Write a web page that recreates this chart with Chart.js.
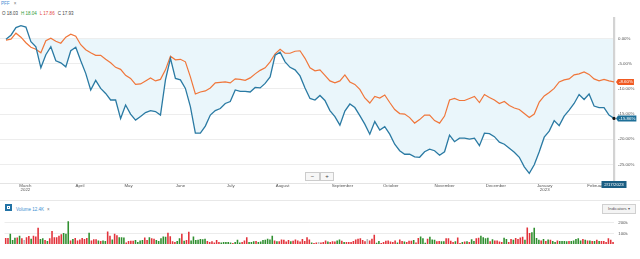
<!DOCTYPE html>
<html>
  <head>
    <title>PFF one year</title>
    <script src="https://cdn.jsdelivr.net/npm/chart.js@4.4.0/dist/chart.umd.min.js"></script>
    <style>
      body {
        margin: 0;
        width: 640px;
        height: 259px;
        overflow: hidden;
        background: #fff;
        position: relative;
        font-family: "Liberation Sans", Arial, sans-serif;
      }
      .abs { position: absolute; white-space: nowrap; }
      #title { left: 1px; top: 1px; font-size: 4.6px; color: #4a8fd4; }
      #title span { color: #777; margin-left: 4px; }
      #ohlc { left: 2px; top: 11px; font-size: 4.5px; color: #444; }
      #ohlc b { font-weight: normal; margin-right: 3px; }
      #priceBox { left: 0; top: 0; width: 640px; height: 196px; }
      #volBox { left: 0; top: 205px; width: 640px; height: 45px; }
      .zbtn {
        top: 172px; height: 7px; border: 1px solid #ccc; background: #f7f7f7;
        font-size: 6px; line-height: 7px; text-align: center; color: #444;
      }
      #sep { left: 0; top: 200px; width: 640px; height: 1px; background: #e8e8e8; }
      #volIcon { left: 5px; top: 204px; width: 7px; height: 7px; background: #2273a6; }
      #volIcon i { position: absolute; left: 2px; top: 2px; width: 3px; height: 3px; border: 0.6px solid #fff; box-sizing: border-box; }
      #volHead { left: 16px; top: 207px; font-size: 4.5px; color: #3d8fd1; }
      #volHead span { color: #777; margin-left: 3px; }
      #ind {
        left: 602px; top: 204px; width: 32px; height: 8px; border: 1px solid #d0d0d0;
        background: #f4f4f4; font-size: 4.3px; line-height: 8px; color: #555; text-align: center;
      }
    </style>
  </head>
  <body>
    <div class="abs" id="title">PFF<span>×</span></div>
    <div class="abs" id="ohlc">
      <b>O 18.03</b><b style="color: #2f9a3a">H 18.04</b><b style="color: #e2453c">L 17.86</b><b>C 17.93</b>
    </div>
    <div class="abs" id="priceBox"><canvas id="priceChart"></canvas></div>
    <div class="abs zbtn" style="left: 305px; width: 13px">−</div>
    <div class="abs zbtn" style="left: 320px; width: 12px">+</div>
    <div class="abs" id="sep"></div>
    <div class="abs" id="volIcon"><i></i></div>
    <div class="abs" id="volHead">Volume 12.4K<span>×</span></div>
    <div class="abs" id="ind">Indicators ▾</div>
    <div class="abs" id="volBox"><canvas id="volChart"></canvas></div>

    <script>
      // % change since 2/17/2022, sampled about every 2 trading days
      const pffPct = [
        -0.1, 0.7, 2.2, 2.6, 2.3, -0.6, -1.6, -5.8, -3.2, -1.6,
        -4.4, -4.8, -5.6, -2.4, -1.7, -4.4, -6.9, -10.2, -8.3, -9.9,
        -10.9, -12.2, -12.2, -15.9, -13.2, -15.0, -16.2, -15.5, -14.7, -14.3,
        -14.5, -15.2, -8.2, -3.9, -7.9, -8.2, -9.9, -13.5, -18.8, -18.8,
        -17.4, -15.2, -14.3, -13.9, -12.9, -12.5, -10.2, -10.5, -10.5, -10.6,
        -9.7, -9.8, -8.9, -7.6, -3.3, -2.7, -4.6, -5.7, -6.2, -7.4,
        -9.8, -11.9, -12.2,
        -11.3, -12.3, -14.3, -15.5, -17.2, -14.4, -13.0, -13.7, -15.3, -17.0,
        -19.0, -16.5, -18.2, -17.5, -19.0, -21.0, -22.3, -23.0, -23.0, -23.5,
        -23.6, -22.5, -22.0, -22.3, -23.2, -22.5, -19.2, -20.5, -19.8, -19.8,
        -20.0, -19.8, -21.3, -18.8, -18.9, -19.5, -20.6, -21.0, -21.8, -22.6,
        -23.6, -25.5, -26.8, -25.1, -22.5, -19.6, -18.4, -16.3, -17.3, -15.4,
        -14.2, -12.9, -11.1, -12.1, -11.0, -13.4, -13.7, -13.7, -15.2,
        -15.86,
      ];
      const benchPct = [
        -0.3, -0.1, 1.1, 0.3, -0.8, -1.7, -2.1, -2.8, -0.4, 0.1,
        -0.5, -0.9, 0.3, 0.9, 0.5, -1.2, -2.2, -2.8, -3.3, -3.3,
        -4.1, -4.8, -5.7, -6.1, -7.3, -7.9, -9.1, -9.0, -8.4, -7.8,
        -8.4, -8.1, -6.2, -3.5, -4.2, -4.1, -4.6, -7.6, -11.0, -10.6,
        -10.4, -9.8, -8.8, -8.7, -8.6, -8.8, -8.0, -8.1, -8.3, -7.8,
        -7.0, -6.3, -5.8, -4.6, -3.0, -2.1, -2.9, -2.9, -2.5, -2.4,
        -3.9, -5.8, -6.4,
        -6.2, -7.3, -8.4, -8.8, -8.4, -7.2, -8.6, -9.1, -10.1, -11.8,
        -12.8, -11.5, -11.8, -11.2, -12.7, -14.1, -14.9, -15.0, -15.7, -16.8,
        -16.1, -15.2, -15.2, -16.3, -16.8, -15.4, -12.2, -11.9, -12.3, -12.3,
        -11.9, -11.5, -12.7, -11.1, -11.7, -12.2, -12.9, -12.5, -13.3, -13.8,
        -14.1, -14.9, -15.7, -15.0, -12.6, -11.4, -10.7, -9.9, -8.6, -8.2,
        -8.0, -7.2, -7.0, -6.6, -7.1, -8.0, -8.4, -8.1, -8.4,
        -8.6,
      ];

      const monthNames = [
        ["March", "2022"], "April", "May", "June", "July", "August",
        "September", "October", "November", "December", ["January", "2023"], "February",
      ];
      // where each month label sits, in sample units
      const monthPos = [3.9, 14.85, 24.6, 35.0, 45.1, 55.5, 67.5, 77.2, 88.0, 98.3, 108.1, 118.4];
      const pctTicks = [0, -5, -10, -15, -20, -25];
      const lastDate = "2/17/2023";

      // daily volume in thousands, r = down day, g = up day, n = unchanged
      const volK = [
        56, 56, 97, 36, 58, 61, 78, 53, 36, 64, 75, 50, 78, 70, 153, 47, 53, 36, 28, 53,
        122, 64, 64, 78, 92, 103, 97, 214, 33, 47, 56, 33, 42, 56, 47, 56, 106, 33, 44, 44,
        33, 28, 33,
        28, 117, 78, 42, 97, 83, 64, 64, 61, 14, 28, 31, 31, 36, 19, 33, 36, 61, 36, 64,
        53, 50, 36, 28, 53, 70, 67, 106, 72, 25, 19, 28, 53, 97, 31, 36, 114, 33, 70, 36,
        39, 47, 44,
        50, 28, 19, 25, 14, 36, 19, 14, 19, 17, 17, 14, 8, 17, 39, 14, 19, 33, 64, 17,
        19, 25, 28, 17, 22, 36, 39, 50, 42, 78, 33, 25, 25, 42, 39, 22, 36, 25, 31, 42,
        33, 22, 47,
        28, 64, 42, 14, 8, 14, 19, 14, 19, 33, 22, 17, 25, 22, 33, 42, 31, 19, 19, 19,
        19, 28, 42, 50, 53, 36, 25, 47, 33, 50, 86, 11, 28, 8, 19, 31, 33, 22, 17, 33,
        14, 42, 28, 22, 19,
        31, 31, 36, 14, 56, 70, 53, 11, 50, 67, 42, 39, 25, 28, 25, 25, 53, 53, 31, 17,
        25, 61, 8, 17, 22, 25, 17, 44, 28, 53, 58, 78, 64, 53, 58, 25, 44, 33, 33, 22,
        17, 58, 47, 17,
        47, 39, 56, 47, 61, 67, 39, 156, 103, 111, 153, 56, 39, 33, 47, 28, 42, 39, 28, 19,
        33, 28, 28, 28, 25, 28, 28, 33, 47, 53, 33, 47, 39, 33, 33, 28, 28, 39, 28, 28,
        28, 17, 53, 39, 19,
      ];
      const volDir = (
        "rrgggrgrnr" + "rgrrrggrgr" + "rrrrrgggrg" + "rrrrrrgrrr" + "grg" +
        "grrgrrgggr" + "rrrggggrrg" + "rrgggggrrr" + "rggrgrrggg" + "ggg" +
        "grrrrrrggg" + "ggrgggrrrg" + "ggrggggggg" + "rgrrrrrgrr" + "rrr" +
        "rrrgrrnrrr" + "grrrggrgrr" + "rrrrrrrnrr" + "rggrrrrrrr" + "grrgr" +
        "rrgrrgggrg" + "ggrrggrrrr" + "grrgrgrggr" + "rggggrgrrr" + "rggr" +
        "rgrrrrgrrg" + "gggrgrgrgg" + "rggggrgggg" + "grgrgrgrgr" + "rrrrr"
      ).split("");
      const volTicks = [100, 200];

      const lastIdx = pffPct.length - 1;
      const idx = pffPct.map((v, i) => i);

      const endTags = {
        id: "endTags",
        beforeDatasetsDraw(chart) {
          const { ctx, chartArea } = chart;
          ctx.save();
          ctx.fillStyle = "#d3d3d3";
          ctx.fillRect(chartArea.right - 1, chartArea.top, 2.2, chartArea.bottom - chartArea.top + 5);
          ctx.restore();
        },
        afterDatasetsDraw(chart) {
          const { ctx, chartArea, scales } = chart;
          ctx.save();
          ctx.font = "4.4px 'Liberation Sans', Arial";
          ctx.textBaseline = "middle";
          chart.data.datasets.forEach((ds) => {
            const v = ds.data[ds.data.length - 1];
            const y = scales.y.getPixelForValue(v);
            const x = chartArea.right + 4;
            const txt = v.toFixed(2) + "%";
            const w = ctx.measureText(txt).width + 2;
            ctx.fillStyle = ds.tagColor;
            ctx.beginPath();
            ctx.moveTo(x - 2, y);
            ctx.lineTo(x, y - 3);
            ctx.lineTo(x + w, y - 3);
            ctx.lineTo(x + w, y + 3);
            ctx.lineTo(x, y + 3);
            ctx.closePath();
            ctx.fill();
            ctx.fillStyle = "#fff";
            ctx.fillText(txt, x + 1, y + 0.3);
          });
          // end dot on the main line
          const xe = scales.x.getPixelForValue(lastIdx);
          const ye = scales.y.getPixelForValue(pffPct[lastIdx]);
          ctx.fillStyle = "#111";
          ctx.beginPath();
          ctx.arc(xe, ye, 1.6, 0, Math.PI * 2);
          ctx.fill();
          // date tag under the last sample
          const tw = 25;
          ctx.fillStyle = "#1b5e83";
          ctx.fillRect(xe - tw / 2, chartArea.bottom - 2, tw, 7);
          ctx.fillStyle = "#fff";
          ctx.textAlign = "center";
          ctx.fillText(lastDate, xe, chartArea.bottom + 1.6);
          ctx.restore();
        },
      };

      const tickFont = { family: "'Liberation Sans', Arial", size: 4.4, lineHeight: 0.95 };

      new Chart(document.getElementById("priceChart"), {
        type: "line",
        data: {
          labels: idx,
          datasets: [
            {
              label: "PFF",
              data: pffPct,
              borderColor: "#2a7aa3",
              borderWidth: 1.3,
              pointRadius: 0,
              tension: 0,
              fill: { target: "origin", above: "rgba(0,0,0,0)", below: "#eaf6fb" },
              tagColor: "#1d6f98",
            },
            {
              label: "Benchmark",
              data: benchPct,
              borderColor: "#f0763a",
              borderWidth: 1.2,
              pointRadius: 0,
              tension: 0,
              fill: false,
              tagColor: "#f05a22",
            },
          ],
        },
        options: {
          responsive: true,
          maintainAspectRatio: false,
          animation: false,
          events: [],
          layout: { padding: { top: 17, left: 0, right: 0, bottom: 0 } },
          plugins: {
            legend: { display: false },
            tooltip: { enabled: false },
            filler: { drawTime: "beforeDatasetsDraw" },
          },
          scales: {
            x: {
              type: "linear",
              min: -1.2,
              max: lastIdx,
              afterBuildTicks: (axis) => {
                axis.ticks = monthPos.map((v) => ({ value: v }));
              },
              afterFit: (axis) => {
                axis.height = 13;
              },
              ticks: {
                autoSkip: false,
                maxRotation: 0,
                padding: 1,
                color: "#555",
                font: tickFont,
                callback: (v) => monthNames[monthPos.indexOf(v)],
              },
              grid: { display: false, drawTicks: false },
              border: { display: true, color: "#e4e4e4", width: 1 },
            },
            y: {
              position: "right",
              min: -28.72,
              max: 4.32,
              afterBuildTicks: (axis) => {
                axis.ticks = pctTicks.map((v) => ({ value: v }));
              },
              afterFit: (axis) => {
                axis.width = 26;
              },
              ticks: {
                padding: 4,
                color: "#555",
                font: tickFont,
                callback: (v) => v.toFixed(2) + "%",
              },
              grid: { color: "#ededed", drawTicks: false },
              border: { display: false },
            },
          },
        },
        plugins: [endTags],
      });

      new Chart(document.getElementById("volChart"), {
        type: "bar",
        data: {
          labels: volK.map((v, i) => i),
          datasets: [
            {
              data: volK,
              backgroundColor: volDir.map((d) => (d === "g" ? "#2f8f2f" : d === "r" ? "#e2323a" : "#b9b9b9")),
              categoryPercentage: 1,
              barPercentage: 0.68,
            },
          ],
        },
        options: {
          responsive: true,
          maintainAspectRatio: false,
          animation: false,
          events: [],
          layout: { padding: { top: 9, left: 4.5, right: 0, bottom: 2 } },
          plugins: { legend: { display: false }, tooltip: { enabled: false } },
          scales: {
            x: { display: false },
            y: {
              position: "right",
              min: 0,
              max: 283,
              afterBuildTicks: (axis) => {
                axis.ticks = volTicks.map((v) => ({ value: v }));
              },
              afterFit: (axis) => {
                axis.width = 25.8;
              },
              ticks: {
                padding: 4,
                color: "#555",
                font: tickFont,
                callback: (v) => v + "k",
              },
              grid: { color: "#ececec", drawTicks: false },
              border: { display: false },
            },
          },
        },
      });
    </script>
  </body>
</html>
